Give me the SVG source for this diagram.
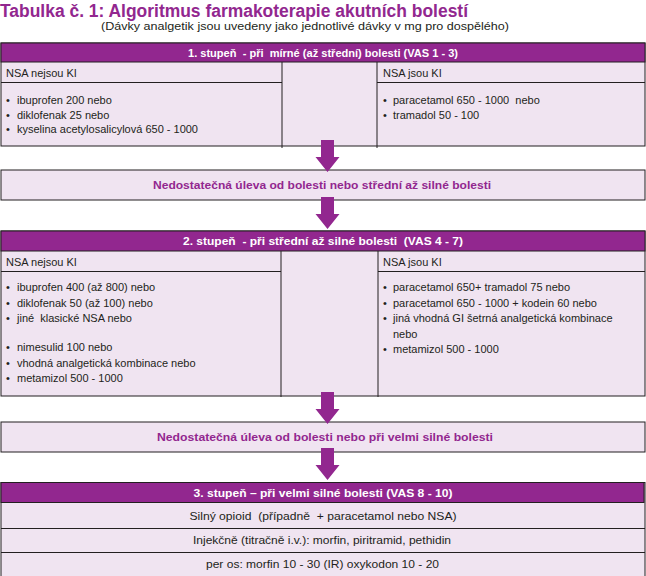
<svg xmlns="http://www.w3.org/2000/svg" width="646" height="576" viewBox="0 0 646 576">
<defs>
<style>
text{white-space:pre;font-family:"Liberation Sans",Arial,sans-serif}
.title{font-size:18px;font-weight:bold;fill:#92278F}
.sub{font-size:11.5px;fill:#231F20}
.hdr{fill:#92278F;stroke:#231F20;stroke-width:1}
.cell{fill:#F0E4F1;stroke:#231F20;stroke-width:1}
.ln{stroke:#231F20;stroke-width:1;fill:none}
.ht{font-size:11px;font-weight:bold;fill:#FFFFFF;text-anchor:middle}
.pt{font-size:11px;font-weight:bold;fill:#92278F;text-anchor:middle}
.it{font-size:11px;fill:#231F20}
.ct{font-size:11px;fill:#231F20;text-anchor:middle}
.arrow{fill:#92278F}
</style>
<symbol id="arr" overflow="visible"><path d="M-6.5,0 H6.5 V17 H12 L0,32 L-12,17 H-6.5 Z"/></symbol>
</defs>
<rect width="646" height="576" fill="#FFFFFF"/>
<g id="title">
<text class="title" x="0" y="17" textLength="468" lengthAdjust="spacingAndGlyphs">Tabulka č. 1: Algoritmus farmakoterapie akutních bolestí</text>
<text class="sub" x="101" y="30" textLength="408" lengthAdjust="spacingAndGlyphs">(Dávky analgetik jsou uvedeny jako jednotlivé dávky v mg pro dospělého)</text>
</g>
<g id="step1">
<rect class="cell" x="1" y="43" width="644" height="103"/>
<rect class="hdr" x="1" y="43" width="644" height="19"/>
<text class="ht" x="323" y="56.5" textLength="270" lengthAdjust="spacingAndGlyphs">1. stupeň  - při  mírné (až střední) bolesti (VAS 1 - 3)</text>
<line class="ln" x1="1" y1="82.5" x2="282" y2="82.5"/>
<line class="ln" x1="377" y1="82.5" x2="645" y2="82.5"/>
<line class="ln" x1="282" y1="62" x2="282" y2="148"/>
<line class="ln" x1="377" y1="62" x2="377" y2="148"/>
<text class="it" x="6" y="77">NSA nejsou KI</text>
<text class="it" x="6" y="104">•<tspan x="17">ibuprofen 200 nebo</tspan></text>
<text class="it" x="6" y="118.5">•<tspan x="17">diklofenak 25 nebo</tspan></text>
<text class="it" x="6" y="133">•<tspan x="17">kyselina acetylosalicylová 650 - 1000</tspan></text>
<text class="it" x="383" y="77">NSA jsou KI</text>
<text class="it" x="383" y="104">•<tspan x="393">paracetamol 650 - 1000  nebo</tspan></text>
<text class="it" x="383" y="118.5">•<tspan x="393">tramadol 50 - 100</tspan></text>
</g>
<g id="relief1">
<rect class="cell" x="1" y="170" width="644" height="30"/>
<text class="pt" x="322" y="189" textLength="338" lengthAdjust="spacingAndGlyphs">Nedostatečná úleva od bolesti nebo střední až silné bolesti</text>
</g>
<g id="step2">
<rect class="cell" x="1" y="231" width="644" height="165"/>
<rect class="hdr" x="1" y="231" width="644" height="20"/>
<text class="ht" x="323" y="245" textLength="280" lengthAdjust="spacingAndGlyphs">2. stupeň  - při střední až silné bolesti  (VAS 4 - 7)</text>
<line class="ln" x1="1" y1="271.5" x2="281" y2="271.5"/>
<line class="ln" x1="378" y1="271.5" x2="645" y2="271.5"/>
<line class="ln" x1="281" y1="251" x2="281" y2="397"/>
<line class="ln" x1="378" y1="251" x2="378" y2="397"/>
<text class="it" x="6" y="266">NSA nejsou KI</text>
<text class="it" x="6" y="291">•<tspan x="17">ibuprofen 400 (až 800) nebo</tspan></text>
<text class="it" x="6" y="306.5">•<tspan x="17">diklofenak 50 (až 100) nebo</tspan></text>
<text class="it" x="6" y="322">•<tspan x="17">jiné  klasické NSA nebo</tspan></text>
<text class="it" x="6" y="351">•<tspan x="17">nimesulid 100 nebo</tspan></text>
<text class="it" x="6" y="366.5">•<tspan x="17">vhodná analgetická kombinace nebo</tspan></text>
<text class="it" x="6" y="382">•<tspan x="17">metamizol 500 - 1000</tspan></text>
<text class="it" x="383" y="266">NSA jsou KI</text>
<text class="it" x="383" y="291">•<tspan x="393">paracetamol 650+ tramadol 75 nebo</tspan></text>
<text class="it" x="383" y="306.5">•<tspan x="393">paracetamol 650 - 1000 + kodein 60 nebo</tspan></text>
<text class="it" x="383" y="322">•<tspan x="393">jiná vhodná GI šetrná analgetická kombinace</tspan></text>
<text class="it" x="393" y="337.5">nebo</text>
<text class="it" x="383" y="353">•<tspan x="393">metamizol 500 - 1000</tspan></text>
</g>
<g id="relief2">
<rect class="cell" x="1" y="422" width="644" height="30"/>
<text class="pt" x="325" y="441" textLength="336" lengthAdjust="spacingAndGlyphs">Nedostatečná úleva od bolesti nebo při velmi silné bolesti</text>
</g>
<g id="step3">
<rect class="cell" x="1" y="482.5" width="644" height="100"/>
<rect class="hdr" x="1" y="482.5" width="643" height="20"/>
<text class="ht" x="323" y="497" textLength="259" lengthAdjust="spacingAndGlyphs">3. stupeň – při velmi silné bolesti (VAS 8 - 10)</text>
<line class="ln" x1="1" y1="528.5" x2="645" y2="528.5"/>
<line class="ln" x1="1" y1="552.5" x2="645" y2="552.5"/>
<text class="ct" x="323" y="520" textLength="267" lengthAdjust="spacingAndGlyphs">Silný opioid  (případně  + paracetamol nebo NSA)</text>
<text class="ct" x="322" y="544" textLength="258" lengthAdjust="spacingAndGlyphs">Injekčně (titračně i.v.): morfin, piritramid, pethidin</text>
<text class="ct" x="322.5" y="568" textLength="233" lengthAdjust="spacingAndGlyphs">per os: morfin 10 - 30 (IR) oxykodon 10 - 20</text>
</g>
<g id="connectors" class="arrow">
<use href="#arr" x="327.5" y="140"/>
<use href="#arr" x="327.5" y="197"/>
<use href="#arr" x="327.5" y="392"/>
<use href="#arr" x="327.5" y="448"/>
</g>
</svg>
